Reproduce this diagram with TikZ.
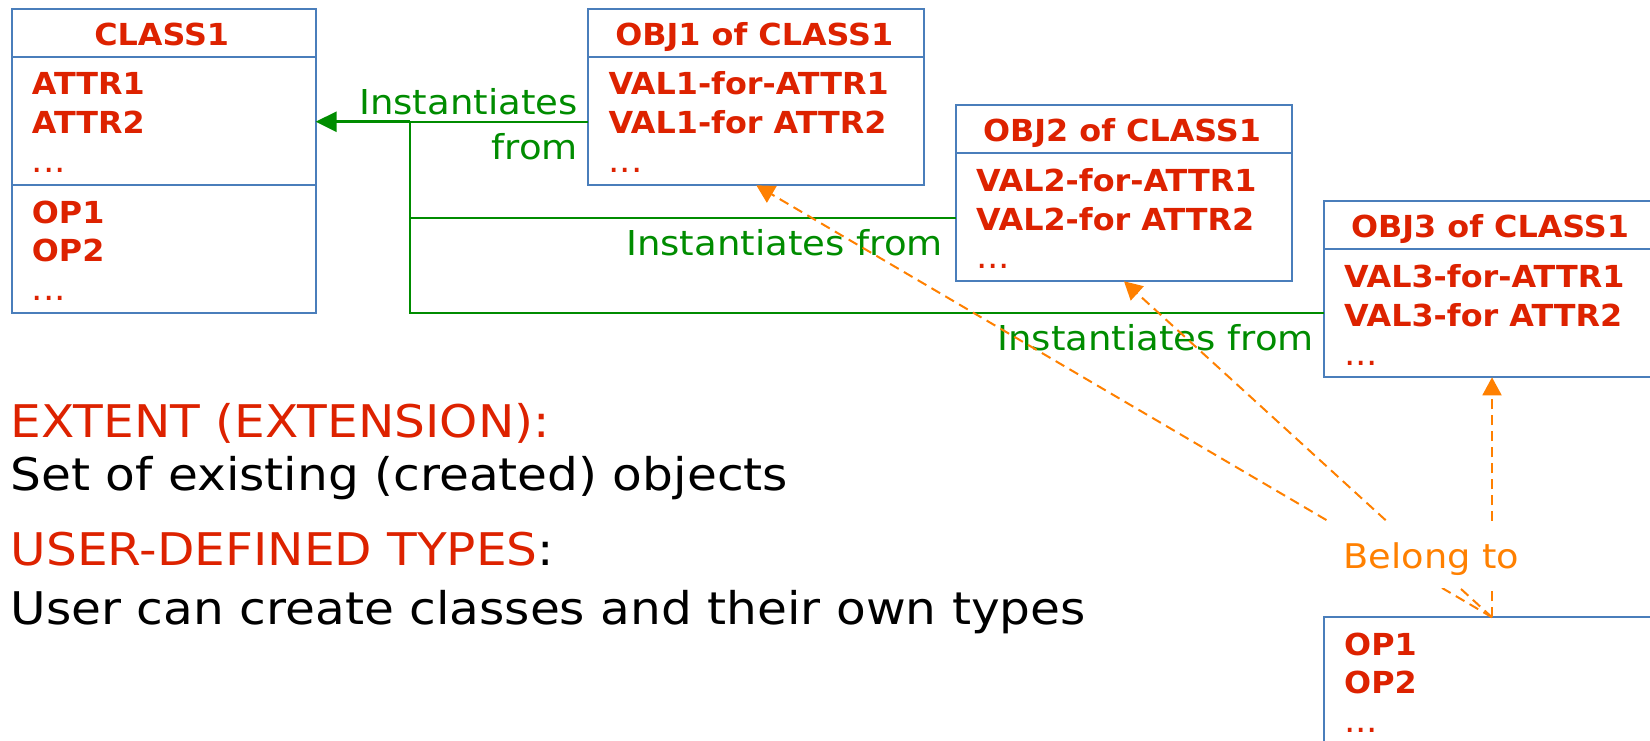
\documentclass[tikz,border=0pt]{standalone}
\usepackage{fontspec}
\usetikzlibrary{arrows.meta}
\newfontfamily\boxfont[FakeStretch=1.05]{DejaVu Sans}
\newfontfamily\txtfont[FakeStretch=1.08]{DejaVu Sans}
\definecolor{ured}{RGB}{221,34,0}
\definecolor{ugreen}{RGB}{0,140,0}
\definecolor{uorange}{RGB}{255,128,0}
\definecolor{ublue}{RGB}{74,126,187}
\begin{document}
\begin{tikzpicture}[x=1pt,y=-1pt,
  frame/.style={draw=ublue, line width=2pt, fill=white, rectangle, inner sep=0pt, outer sep=0pt, anchor=north west},
  sepline/.style={draw=ublue, line width=2pt},
  head/.style={font=\boxfont\bfseries\fontsize{30.3}{36}\selectfont, text=ured, inner sep=0pt, anchor=base},
  item/.style={font=\boxfont\bfseries\fontsize{30.3}{36}\selectfont, text=ured, inner sep=0pt, anchor=base west},
  more/.style={font=\boxfont\fontsize{34}{36}\selectfont, text=ured, inner sep=0pt, anchor=base west},
  inst/.style={draw=ugreen, line width=1.8pt},
  instlbl/.style={font=\txtfont\fontsize{34.3}{40}\selectfont, text=ugreen, inner sep=0pt, anchor=base east},
  belong/.style={draw=uorange, line width=2pt, dash pattern=on 10pt off 6pt, -{Triangle[length=18pt,width=19pt]}},
  belonglbl/.style={font=\txtfont\fontsize{34}{40}\selectfont, text=uorange, fill=white, anchor=base, text height=27pt, text depth=0pt, inner xsep=22pt, inner ysep=20pt},
  bodytext/.style={font=\txtfont\fontsize{45}{54}\selectfont, inner sep=0pt, anchor=base west}
]
\useasboundingbox (0,0) rectangle (1650,741);
\clip (0,0) rectangle (1650,741);

% class box
\node[frame, minimum width=304pt, minimum height=304pt] (class1) at (11.7,9.3) {};
\draw[sepline] (11.7,57.3) -- (315.7,57.3);
\draw[sepline] (11.7,185) -- (315.7,185);
\node[head] (c1head) at (161.7,45.7) {CLASS1};
\node[item] (c1a1) at (31.7,95) {ATTR1};
\node[item] (c1a2) at (31.7,134) {ATTR2};
\node[more] (c1a3) at (31.7,172.7) {...};
\node[item] (c1o1) at (31.7,223.3) {OP1};
\node[item] (c1o2) at (31.7,261.7) {OP2};
\node[more] (c1o3) at (31.7,300) {...};

% object boxes
\node[frame, minimum width=336pt, minimum height=176pt] (obj1) at (588.3,9.3) {};
\draw[sepline] (588.3,57.3) -- (924.3,57.3);
\node[head] (o1head) at (754.3,45.7) {OBJ1 of CLASS1};
\node[item] (o1v1) at (608.3,95) {VAL1-for-ATTR1};
\node[item] (o1v2) at (608.3,134) {VAL1-for ATTR2};
\node[more] (o1v3) at (608.3,172.7) {...};

\node[frame, minimum width=336pt, minimum height=176pt] (obj2) at (956,105.3) {};
\draw[sepline] (956,153.3) -- (1292,153.3);
\node[head] (o2head) at (1122,141.7) {OBJ2 of CLASS1};
\node[item] (o2v1) at (976,191) {VAL2-for-ATTR1};
\node[item] (o2v2) at (976,230) {VAL2-for ATTR2};
\node[more] (o2v3) at (976,268.7) {...};

\node[frame, minimum width=336pt, minimum height=176pt] (obj3) at (1324,201.3) {};
\draw[sepline] (1324,249.3) -- (1660,249.3);
\node[head] (o3head) at (1490,237.7) {OBJ3 of CLASS1};
\node[item] (o3v1) at (1344,287.3) {VAL3-for-ATTR1};
\node[item] (o3v2) at (1344,326.3) {VAL3-for ATTR2};
\node[more] (o3v3) at (1344,365) {...};

% operations box
\node[frame, minimum width=336pt, minimum height=176pt] (bot) at (1324,617.3) {};
\node[item] (bo1) at (1344,655) {OP1};
\node[item] (bo2) at (1344,693.3) {OP2};
\node[more] (bo3) at (1344,732.3) {...};

% instantiation links
\coordinate (j1) at (410,121.7);
\coordinate (j2) at (410,217.7);
\coordinate (j3) at (410,313);
\draw[inst] (obj1.west |- j1) -- (j1) -- (j3) -- (obj3.west |- j3);
\draw[inst] (j2) -- (obj2.west |- j2);
\draw[inst, line width=3pt, -{Triangle[length=21pt,width=20pt]}] (j1) -- (class1.east |- j1);
\node[instlbl] (i1a) at (578,115) {Instantiates};
\node[instlbl] (i1b) at (578,159.3) {from};
\node[instlbl] (i2) at (943,255.5) {Instantiates from};
\node[instlbl] (i3) at (1314,350) {Instantiates from};

% membership links
\draw[belong] (bot.north) -- (obj1.south);
\draw[belong] (bot.north) -- (obj2.south);
\draw[belong] (bot.north) -- (obj3.south);
\node[belonglbl] (blbl) at (1431.5,568) {Belong to};

% notes
\node[bodytext, text=ured] (ext) at (10.5,437.7) {EXTENT (EXTENSION):};
\node[bodytext] (extd) at (10.5,490) {Set of existing (created) objects};
\node[bodytext] (udt) at (10.5,565.5) {{\color{ured}USER-DEFINED TYPES}:};
\node[bodytext] (udtd) at (10.5,624) {User can create classes and their own types};
\end{tikzpicture}
\end{document}
